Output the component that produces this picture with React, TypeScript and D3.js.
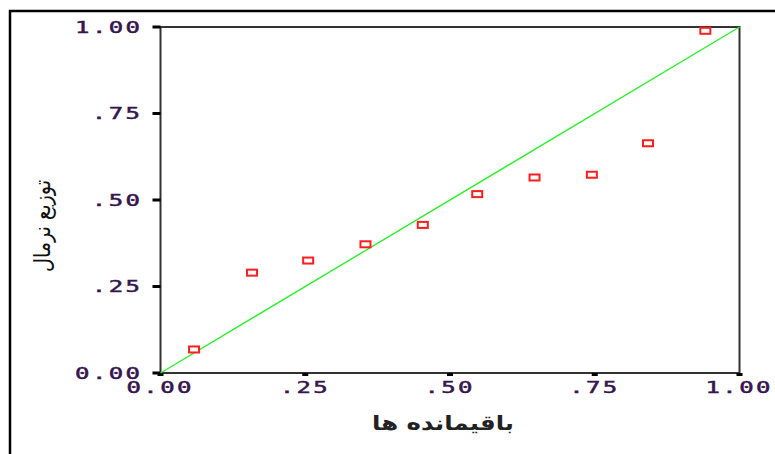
import { useEffect, useRef } from 'react'
import * as d3 from 'd3'

// observed cumulative prob vs expected (P-P plot)
const X_VALUES = [0.058, 0.158, 0.255, 0.354, 0.453, 0.547, 0.646, 0.745, 0.842, 0.941]
const Y_VALUES = [0.068, 0.290, 0.325, 0.372, 0.428, 0.517, 0.565, 0.573, 0.664, 0.989]
const TICKS = [0, 0.25, 0.5, 0.75, 1]
const TICK_LABELS = ['0.00', '.25', '.50', '.75', '1.00']
const X_TITLE = 'باقیمانده ها'
const Y_TITLE = 'توزیع نرمال'

const W = 775
const H = 454
const plot = { left: 160.5, right: 739.5, top: 27, bottom: 373 }
const TICK_FONT = { family: '"DejaVu Sans Mono", monospace', size: 15, color: '#36154e', stretch: 1.6, spacing: 1.5 }

export default function App() {
  const svgRef = useRef<SVGSVGElement>(null)

  useEffect(() => {
    if (!svgRef.current) return
    const svg = d3.select(svgRef.current)
    svg.selectAll('*').remove()

    svg.append('rect').attr('width', W).attr('height', H).attr('fill', '#fff')

    // outer frame (only left/top visible)
    svg.append('rect')
      .attr('x', 10).attr('y', 11)
      .attr('width', W + 20).attr('height', H + 20)
      .attr('fill', 'none').attr('stroke', '#000').attr('stroke-width', 2.5)

    const x = d3.scaleLinear().domain([0, 1]).range([plot.left, plot.right])
    const y = d3.scaleLinear().domain([0, 1]).range([plot.bottom, plot.top])

    // plot box
    svg.append('rect')
      .attr('x', plot.left).attr('y', plot.top)
      .attr('width', plot.right - plot.left).attr('height', plot.bottom - plot.top)
      .attr('fill', 'none').attr('stroke', '#333').attr('stroke-width', 2)

    const trail = TICK_FONT.spacing * TICK_FONT.stretch
    const tickText = (sel: any) => sel
      .attr('font-family', TICK_FONT.family).attr('font-size', TICK_FONT.size)
      .attr('letter-spacing', TICK_FONT.spacing)
      .attr('fill', TICK_FONT.color)
      .attr('stroke', TICK_FONT.color).attr('stroke-width', 0.45)
      .text((_: number, i: number) => TICK_LABELS[i])

    // y ticks
    svg.append('g').selectAll('rect')
      .data(TICKS)
      .enter().append('rect')
      .attr('x', plot.left - 8).attr('y', d => y(d) - 1.5)
      .attr('width', 8).attr('height', 3)
      .attr('fill', '#000')

    svg.append('g').selectAll('text')
      .data(TICKS)
      .enter().append('text')
      .attr('transform', d => `translate(${140 + trail},${y(d) + 5.5}) scale(${TICK_FONT.stretch},1)`)
      .attr('text-anchor', 'end')
      .call(tickText)

    // x ticks
    svg.append('g').selectAll('rect')
      .data(TICKS)
      .enter().append('rect')
      .attr('x', d => x(d) - 3).attr('y', plot.bottom)
      .attr('width', 6).attr('height', 3)
      .attr('fill', '#000')

    svg.append('g').selectAll('text')
      .data(TICKS)
      .enter().append('text')
      .attr('transform', d => `translate(${x(d) - 1.5 + trail / 2},${plot.bottom + 20}) scale(${TICK_FONT.stretch},1)`)
      .attr('text-anchor', 'middle')
      .call(tickText)

    // reference diagonal
    svg.append('path')
      .attr('d', d3.line<number>().x(d => x(d)).y(d => y(d))([0, 1]))
      .attr('stroke', '#2cf02c').attr('stroke-width', 1.4).attr('fill', 'none')

    // points
    const pts = X_VALUES.map((v, i) => ({ x: v, y: Y_VALUES[i] }))
    svg.append('g').selectAll('rect')
      .data(pts)
      .enter().append('rect')
      .attr('x', d => x(d.x) - 5).attr('y', d => y(d.y) - 3)
      .attr('width', 10).attr('height', 6)
      .attr('fill', '#fff').attr('stroke', '#ff1e1e').attr('stroke-width', 2)

    // axis titles
    svg.append('text')
      .attr('x', 443).attr('y', 430)
      .attr('text-anchor', 'middle')
      .attr('font-family', '"DejaVu Sans", sans-serif').attr('font-size', 20)
      .attr('font-weight', 'bold')
      .attr('textLength', 142).attr('lengthAdjust', 'spacingAndGlyphs')
      .attr('fill', '#222')
      .text(X_TITLE)

    svg.append('text')
      .attr('transform', 'translate(50,226) rotate(-90)')
      .attr('text-anchor', 'middle')
      .attr('font-family', '"DejaVu Sans", sans-serif').attr('font-size', 23)
      .attr('textLength', 92).attr('lengthAdjust', 'spacingAndGlyphs')
      .attr('fill', '#111')
      .text(Y_TITLE)
  }, [])

  return (
    <svg
      ref={svgRef}
      width={W}
      height={H}
      style={{ position: 'absolute', left: 0, top: 0, display: 'block' }}
    />
  )
}
